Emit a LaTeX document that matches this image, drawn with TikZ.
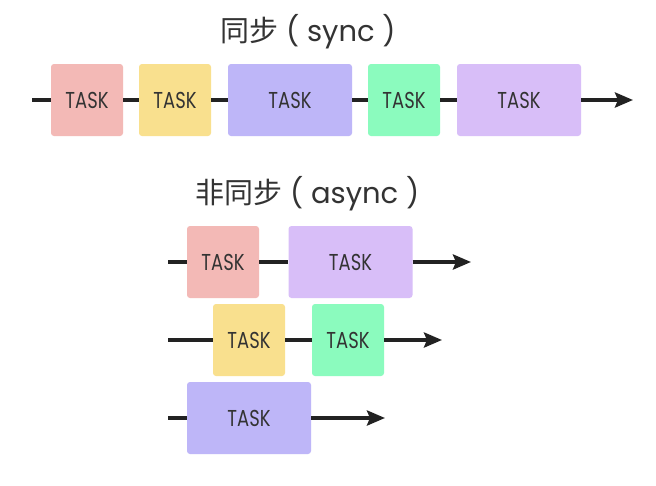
\documentclass[tikz,border=0pt]{standalone}
\usepackage{fontspec}
\newfontfamily\latfont[FakeStretch=0.78]{Poppins}
\newfontfamily\titlelat{Poppins}
\newfontfamily\cjk{Noto Sans CJK SC}
\usetikzlibrary{arrows.meta}
\definecolor{cpink}{HTML}{F3B9B6}
\definecolor{cyellow}{HTML}{F9E08E}
\definecolor{cblue}{HTML}{BEB6F8}
\definecolor{cgreen}{HTML}{8BFBBE}
\definecolor{clav}{HTML}{D8BEF8}
\definecolor{ctext}{HTML}{333333}
\definecolor{cline}{HTML}{222222}
\tikzset{
  taskbox/.style={rounded corners=3pt, inner sep=0pt, minimum height=72pt,
    minimum width=72pt, text=ctext, font=\latfont\fontsize{23}{23}\selectfont},
  wide/.style={minimum width=124pt},
  flow/.style={draw=cline, line width=4pt},
  flowarrow/.style={flow, -{Stealth[length=18pt,width=15pt,inset=3pt]}},
  titlenode/.style={inner sep=0pt, anchor=base west, text=ctext,
    font=\fontsize{29}{29}\selectfont}
}
\begin{document}
\begin{tikzpicture}[x=1pt,y=-1pt]
\useasboundingbox[fill=white] (0,0) rectangle (656,485);
% titles
\node[titlenode] (title1) at (220,41) {{\cjk 同步}\hspace{8pt}{\titlelat ( sync )}};
\node[titlenode] (title2) at (195,203) {{\cjk 非同步}\hspace{8pt}{\titlelat ( async )}};
% sync row
\coordinate (s0) at (32,100);
\node[taskbox, fill=cpink] (t1) at (87,100) {TASK};
\node[taskbox, fill=cyellow] (t2) at (175,100) {TASK};
\node[taskbox, wide, fill=cblue] (t3) at (290,100) {TASK};
\node[taskbox, fill=cgreen] (t4) at (404,100) {TASK};
\node[taskbox, wide, fill=clav] (t5) at (519,100) {TASK};
\coordinate (s1) at (633,100);
\draw[flow] (s0) -- (t1.west);
\draw[flow] (t1.east) -- (t2.west);
\draw[flow] (t2.east) -- (t3.west);
\draw[flow] (t3.east) -- (t4.west);
\draw[flow] (t4.east) -- (t5.west);
\draw[flowarrow] (t5.east) -- (s1);
% async row 1
\coordinate (a0) at (168,262);
\node[taskbox, fill=cpink] (a1) at (223,262) {TASK};
\node[taskbox, wide, fill=clav] (a2) at (350.5,262) {TASK};
\coordinate (a3) at (471,262);
\draw[flow] (a0) -- (a1.west);
\draw[flow] (a1.east) -- (a2.west);
\draw[flowarrow] (a2.east) -- (a3);
% async row 2
\coordinate (b0) at (168,340);
\node[taskbox, fill=cyellow] (b1) at (249,340) {TASK};
\node[taskbox, fill=cgreen] (b2) at (348,340) {TASK};
\coordinate (b3) at (442,340);
\draw[flow] (b0) -- (b1.west);
\draw[flow] (b1.east) -- (b2.west);
\draw[flowarrow] (b2.east) -- (b3);
% async row 3
\coordinate (c0) at (168,418);
\node[taskbox, wide, fill=cblue] (c1) at (249,418) {TASK};
\coordinate (c2) at (385,418);
\draw[flow] (c0) -- (c1.west);
\draw[flowarrow] (c1.east) -- (c2);
\end{tikzpicture}
\end{document}
